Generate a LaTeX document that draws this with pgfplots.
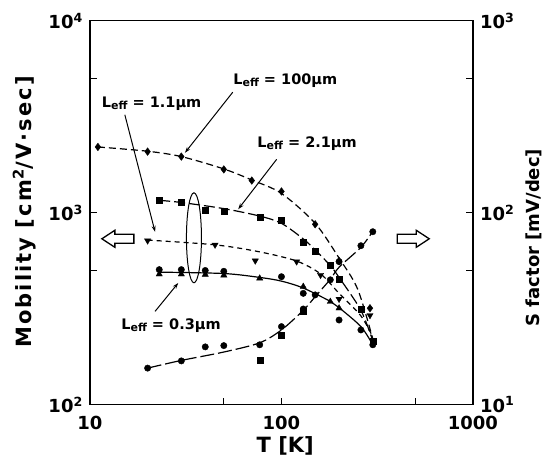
\documentclass[border=0pt]{standalone}
\usepackage{fontspec}
\setmainfont{DejaVu Sans}
\newfontfamily\spaced[LetterSpace=10]{DejaVu Sans}
\usepackage{pgfplots}
\pgfplotsset{compat=1.18}
\usetikzlibrary{arrows.meta}

\newcommand\Leff{L\raisebox{-1.5bp}{\fontsize{11bp}{12bp}\selectfont eff}}
\newcommand\labfont{\bfseries\fontsize{14.5bp}{16bp}\selectfont}

\pgfplotsset{
  myax/.style={
    scale only axis, width=383bp, height=384bp,
    xmin=10, xmax=1000,
    tick align=inside, major tick length=7bp, minor tick length=7bp,
    tick style={line width=1.1pt, black},
    axis line style={line width=1.5pt},
    clip=false,
    ticklabel style={font=\bfseries\fontsize{18bp}{22bp}\selectfont, inner sep=1bp},
  },
  mk/.style={only marks, mark options={solid, fill=black}},
}

\begin{document}
\begin{tikzpicture}
\begin{axis}[xmode=log, ymode=log, myax,
  ymin=100, ymax=10000,
  xtick={10,100,1000}, xticklabels={10,100,1000}, minor xtick={50,500},
  xticklabel style={yshift=-10bp},
  yticklabel style={xshift=-6bp},
  ytick={100,1000,10000},
  yticklabels={10\textsuperscript{2},10\textsuperscript{3},10\textsuperscript{4}},
  minor ytick={500,5000},
  xtick pos=bottom, ytick pos=left,
  xlabel={T [K]}, ylabel={Mobility [cm\textsuperscript{2}/V·sec]},
  xlabel style={at={(rel axis cs:0.51,-0.108)}, anchor=center,
    font=\bfseries\fontsize{21bp}{24bp}\selectfont},
  ylabel style={at={(rel axis cs:-0.172,0.502)}, anchor=center,
    font=\spaced\bfseries\fontsize{21bp}{24bp}\selectfont},
]
% L=100um, diamonds
\addplot[black, line width=1.2pt, dash pattern=on 7bp off 4bp, smooth] coordinates {
  (11,2200) (20,2090) (30,1960) (50,1690) (70,1480) (100,1260) (150,880) (200,580) (250,400) (300,220)};
\addplot[mk, mark=diamond*, mark size=3.8bp] coordinates {
  (11,2200) (20,2080) (30,1960) (50,1680) (70,1470) (100,1290) (150,870) (200,560) (290,318)};
% L=2.1um, squares
\addplot[black, line width=1.2pt, dash pattern=on 11bp off 4bp, smooth] coordinates {
  (23,1160) (30,1130) (50,1050) (77,960) (100,880) (130,730) (150,640) (180,530) (200,460) (260,310) (300,215)};
\addplot[mk, mark=square*, mark size=3bp] coordinates {
  (23,1155) (30,1130) (40,1035) (50,1020) (77,945) (100,915) (130,700) (150,630) (180,535) (200,450) (260,314) (300,215)};
% L=1.1um, down triangles
\addplot[black, line width=1.2pt, dash pattern=on 5bp off 4bp, smooth] coordinates {
  (20,720) (45,680) (77,625) (120,560) (160,480) (200,380) (260,290) (300,225)};
\addplot[mk, mark=triangle*, mark options={rotate=180}, mark size=3.6bp] coordinates {
  (20,715) (45,680) (73,562) (120,556) (160,473) (200,355) (290,292)};
% L=0.3um, triangles and circles
\addplot[black, line width=1.2pt, smooth] coordinates {
  (23,490) (50,482) (77,460) (100,440) (130,405) (180,345) (200,320) (260,255) (300,205)};
\addplot[mk, mark=triangle*, mark size=3.6bp] coordinates {
  (23,478) (30,478) (40,476) (50,472) (77,455) (130,412) (180,344) (200,318)};
\addplot[mk, mark=*, mark size=3.2bp] coordinates {
  (23,505) (30,505) (40,500) (50,495) (100,464) (130,380) (200,276) (260,245) (300,205)};

% annotations
\node[font=\labfont, anchor=base] at (rel axis cs:0.161,0.773) {\Leff\ = 1.1µm};
\node[font=\labfont, anchor=base] at (rel axis cs:0.510,0.833) {\Leff\ = 100µm};
\node[font=\labfont, anchor=base] at (rel axis cs:0.567,0.669) {\Leff\ = 2.1µm};
\node[font=\labfont, anchor=base] at (rel axis cs:0.2115,0.195) {\Leff\ = 0.3µm};
\draw[line width=1pt, -{Stealth[length=6bp,width=4bp]}] (rel axis cs:0.091,0.755) -- (rel axis cs:0.170,0.450);
\draw[line width=1pt, -{Stealth[length=6bp,width=4bp]}] (rel axis cs:0.373,0.814) -- (rel axis cs:0.248,0.656);
\draw[line width=1pt, -{Stealth[length=6bp,width=4bp]}] (rel axis cs:0.4875,0.639) -- (rel axis cs:0.387,0.509);
\draw[line width=1pt, -{Stealth[length=6bp,width=4bp]}] (rel axis cs:0.170,0.243) -- (rel axis cs:0.2305,0.317);
\draw[line width=1pt] (rel axis cs:0.2715,0.4346) ellipse [x radius=7.5bp, y radius=45bp];
\coordinate (la) at (rel axis cs:0.031,0.432);
\coordinate (ra) at (rel axis cs:0.886,0.432);
\coordinate (bl) at (rel axis cs:-0.235,-0.159);
\coordinate (tr) at (rel axis cs:1.217,1.054);
\end{axis}

\begin{axis}[xmode=log, ymode=log, myax,
  ymin=10, ymax=1000,
  axis x line=none, axis y line*=right,
  yticklabel style={xshift=6bp},
  ytick={10,100,1000},
  yticklabels={10\textsuperscript{1},10\textsuperscript{2},10\textsuperscript{3}},
  minor ytick={50,500},
  ylabel={S factor [mV/dec]},
  ylabel style={at={(rel axis cs:1.160,0.435)}, anchor=center,
    font=\bfseries\fontsize{18bp}{22bp}\selectfont},
]
\addplot[black, line width=1.2pt, dash pattern=on 14bp off 4bp, smooth] coordinates {
  (20,15.5) (30,17) (50,18.8) (77,21) (100,24.5) (130,31) (150,36.5) (180,45) (200,52) (260,66) (300,80)};
\addplot[mk, mark=*, mark size=3.2bp] coordinates {
  (20,15.5) (30,16.9) (40,20) (50,20.3) (77,20.5) (100,25.5) (130,31.5) (150,37.3) (180,44.7) (200,55.6) (260,67.3) (300,79.6)};
\addplot[mk, mark=square*, mark size=3bp] coordinates {
  (77,17.1) (100,23.1) (130,30.5)};
\end{axis}

% hollow arrows
\draw[line width=1.3pt, shift={(la)}] (0,0) -- (13bp,8.5bp) -- (13bp,4.5bp) -- (32bp,4.5bp)
  -- (32bp,-4.5bp) -- (13bp,-4.5bp) -- (13bp,-8.5bp) -- cycle;
\draw[line width=1.3pt, shift={(ra)}] (0,0) -- (-13bp,8.5bp) -- (-13bp,4.5bp) -- (-32bp,4.5bp)
  -- (-32bp,-4.5bp) -- (-13bp,-4.5bp) -- (-13bp,-8.5bp) -- cycle;

\pgfresetboundingbox
\path[use as bounding box] (bl) rectangle (tr);
\end{tikzpicture}
\end{document}
